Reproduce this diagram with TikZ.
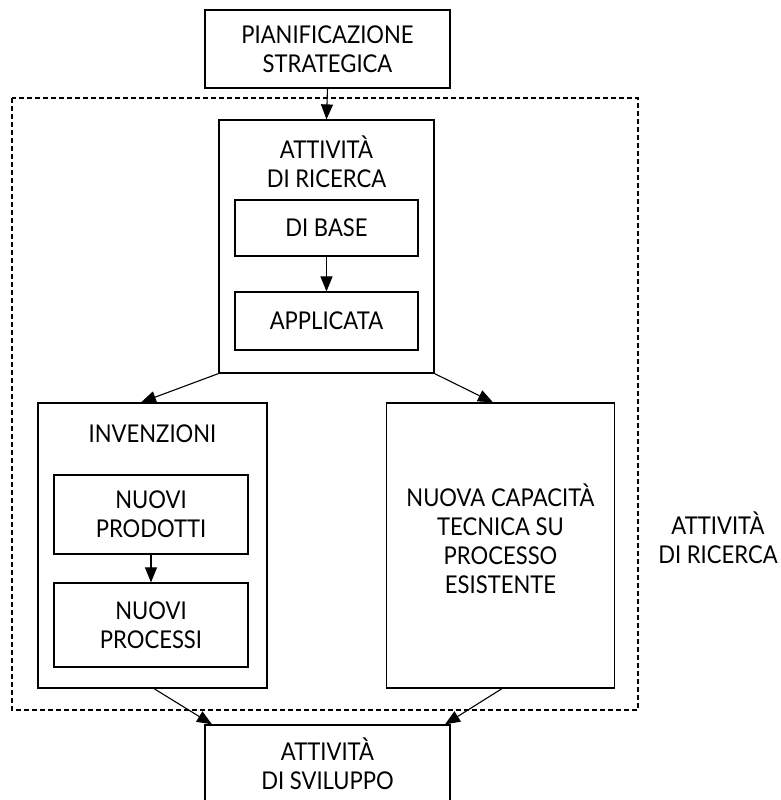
\documentclass[tikz,border=0pt]{standalone}
\usepackage{fontspec}
\setmainfont[FakeStretch=0.9]{Lato}
\usetikzlibrary{arrows.meta}
\begin{document}
\begin{tikzpicture}[x=1pt,y=-1pt,
  every node/.style={font=\fontsize{24.5}{29}\selectfont, align=center, inner sep=0pt},
  box/.style={draw, line width=1.2pt, rectangle, minimum width=#1},
  arr/.style={-{Triangle[length=15pt,width=12pt]}, line width=1.1pt},
  frame/.style={draw, line width=1.1pt, dash pattern=on 5pt off 3pt}]
\useasboundingbox (0,0) rectangle (781,800);
\clip (0,0) rectangle (781,800);

% outer dashed area
\draw[frame] (12,98) rectangle (638,710);

% top planning box
\node[box=245pt, minimum height=78pt] (plan) at (327.5,49) {PIANIFICAZIONE\\STRATEGICA};

% research activity container
\node[box=215pt, minimum height=253pt] (ric) at (326.5,246.5) {};
\node (rictitle) at (326.5,162) {ATTIVITÀ\\DI RICERCA};
\node[box=183pt, minimum height=56pt] (base) at (326.5,228) {DI BASE};
\node[box=183pt, minimum height=58pt] (appl) at (326.5,321) {APPLICATA};

% inventions container
\node[box=229pt, minimum height=285pt] (inv) at (152.5,545.5) {};
\node (invtitle) at (152.5,434) {INVENZIONI};
\node[box=194pt, minimum height=79pt] (prod) at (151,514.5) {NUOVI\\PRODOTTI};
\node[box=194pt, minimum height=84pt] (proc) at (151,625) {NUOVI\\PROCESSI};

% technical capability box
\node[box=228pt, minimum height=285pt] (cap) at (500.5,545.5) {};
\node (captext) at (500.5,539) {NUOVA CAPACITÀ\\TECNICA SU\\PROCESSO\\ESISTENTE};

% development box
\node[box=245pt, minimum height=110pt] (svil) at (327.5,780) {};
\node (sviltext) at (327.5,764) {ATTIVITÀ\\DI SVILUPPO};

% side label of the dashed area
\node (side) at (718,538) {ATTIVITÀ\\DI RICERCA};

% connectors
\draw[arr] (plan.south) -- (ric.north);
\draw[arr] (base.south) -- (appl.north);
\draw[arr] (prod.south) -- (proc.north);
\draw[arr] (ric.south west) -- (inv.north -| 141,0);
\draw[arr] (ric.south east) -- (cap.north -| 493,0);
\draw[arr] (inv.south -| 154,0) -- (svil.north -| 212,0);
\draw[arr] (cap.south -| 502,0) -- (svil.north -| 445,0);
\end{tikzpicture}
\end{document}
